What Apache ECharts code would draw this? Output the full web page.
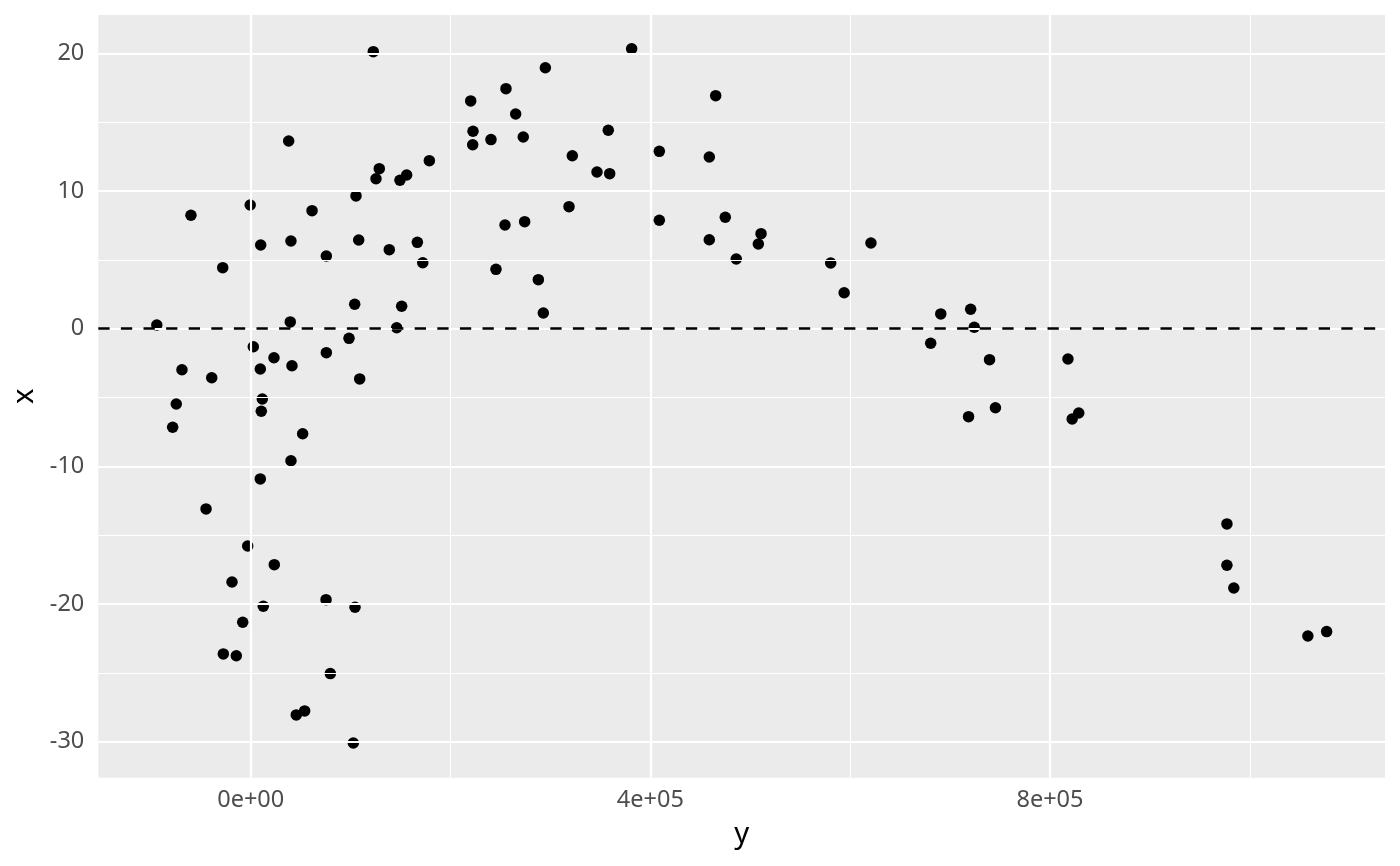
<!DOCTYPE html>
<html>
<head>
<meta charset="utf-8">
<script src="https://cdn.jsdelivr.net/npm/echarts@6/dist/echarts.min.js"></script>
<style>
html,body{margin:0;padding:0;background:#fff;}
#chart{width:1400px;height:866px;}
</style>
</head>
<body>
<div id="chart"></div>
<script>
// horizontal variable "y"
const yVals = [-94000, -59800, -28000, -68800, -74500, -78100, -39000, -44700, -18700, -27400,
  -14400, -8000, -3000, -500, 2600, 9600, 11600, 10600, 9600, 10000,
  12600, 23300, 23600, 38000, 40300, 39600, 41300, 40300, 45600, 54000,
  52000, 61400, 75700, 75700, 75400, 79700, 98400, 102700, 104400, 104100,
  105400, 108100, 109100, 122700, 125400, 128700, 138700, 146100, 149400, 156100,
  151100, 166800, 172200, 178800, 220200, 222500, 222200, 240500, 255500, 265200,
  272800, 294900, 254500, 274200, 245500, 287900, 292900, 318600, 321900, 346600,
  359300, 357900, 381300, 409000, 409000, 459000, 465400, 459000, 475000, 486000,
  508100, 510800, 580500, 594000, 620800, 680600, 690700, 720600, 724200, 718500,
  739500, 745400, 818000, 822200, 828800, 977100, 977100, 984000, 1058100, 1076900];
// vertical variable "x"
const xVals = [0.27, 8.24, 4.43, -2.98, -5.47, -7.16, -3.56, -13.09, -18.40, -23.62,
  -23.75, -21.32, -15.78, 8.98, -1.31, -2.93, -5.11, -6.00, -10.91, 6.08,
  -20.16, -2.11, -17.14, 13.63, 6.37, 0.49, -2.69, -9.59, -28.05, -27.76,
  -7.63, 8.57, 5.28, -1.74, -19.68, -25.05, -0.70, -30.09, -20.23, 1.77,
  9.64, 6.44, -3.65, 20.12, 10.89, 11.62, 5.74, 0.07, 10.78, 11.16,
  1.63, 6.27, 4.79, 12.20, 16.54, 14.34, 13.36, 13.73, 17.43, 15.59,
  13.92, 18.95, 7.53, 7.77, 4.31, 3.56, 1.14, 8.86, 12.56, 11.38,
  11.26, 14.41, 20.33, 12.88, 7.87, 12.47, 16.92, 6.46, 8.09, 5.06,
  6.15, 6.90, 4.77, 2.61, 6.22, -1.06, 1.07, 1.41, 0.10, -6.39,
  -2.25, -5.74, -2.20, -6.56, -6.12, -14.18, -17.18, -18.83, -22.32, -22.00];

const xTickValues = [0, 400000, 800000];
const xTickLabels = ['0e+00', '4e+05', '8e+05'];
const xMinorValues = [200000, 600000, 1000000];
const yTickValues = [-30, -20, -10, 0, 10, 20];
const yTickLabels = ['-30', '-20', '-10', '0', '10', '20'];
const yMinorValues = [-25, -15, -5, 5, 15];
const refLineValue = [0];

const X_MIN = -152540, X_MAX = 1135320;
const Y_MIN = -32.61, Y_MAX = 22.78;

const FONT = 'Noto Sans';
const points = yVals.map((v, i) => [v, xVals[i]]);

const gridLines = [];
xMinorValues.forEach(v => gridLines.push({xAxis: v, lineStyle: {width: 1.1}}));
yMinorValues.forEach(v => gridLines.push({yAxis: v, lineStyle: {width: 1.1}}));
xTickValues.forEach(v => gridLines.push({xAxis: v, lineStyle: {width: 2.2}}));
yTickValues.forEach(v => gridLines.push({yAxis: v, lineStyle: {width: 2.2}}));

const chart = echarts.init(document.getElementById('chart'), null, {renderer: 'canvas'});
chart.setOption({
  animation: false,
  backgroundColor: '#ffffff',
  textStyle: {fontFamily: FONT},
  grid: {
    left: 98.3, right: 15, top: 15, bottom: 88.3,
    show: true, backgroundColor: '#EBEBEB', borderWidth: 0, borderColor: 'transparent'
  },
  xAxis: {
    type: 'value', min: X_MIN, max: X_MAX,
    name: 'y', nameLocation: 'middle', nameGap: 42,
    nameTextStyle: {fontSize: 29.3, color: '#000000', fontFamily: FONT},
    axisLine: {show: false},
    axisTick: {show: true, customValues: xTickValues, length: 7.3, lineStyle: {color: '#333333', width: 2}},
    axisLabel: {
      customValues: xTickValues, margin: 11, fontSize: 23.5, color: '#4D4D4D', fontFamily: FONT,
      formatter: v => { const i = xTickValues.indexOf(v); return i >= 0 ? xTickLabels[i] : ''; }
    },
    splitLine: {show: false}
  },
  yAxis: {
    type: 'value', min: Y_MIN, max: Y_MAX,
    name: 'x', nameLocation: 'middle', nameGap: 56, nameRotate: 90,
    nameTextStyle: {fontSize: 29.3, color: '#000000', fontFamily: FONT},
    axisLine: {show: false},
    axisTick: {show: true, customValues: yTickValues, length: 7.3, lineStyle: {color: '#333333', width: 2}},
    axisLabel: {
      customValues: yTickValues, margin: 14, fontSize: 23.5, color: '#4D4D4D', fontFamily: FONT,
      formatter: v => { const i = yTickValues.indexOf(v); return i >= 0 ? yTickLabels[i] : ''; }
    },
    splitLine: {show: false}
  },
  series: [
    {
      type: 'scatter', data: [], z: 1, silent: true,
      markLine: {
        silent: true, symbol: ['none', 'none'], animation: false,
        label: {show: false},
        lineStyle: {color: '#FFFFFF', type: 'solid'},
        data: gridLines
      }
    },
    {
      type: 'scatter', data: [], z: 2, silent: true,
      markLine: {
        silent: true, symbol: ['none', 'none'], animation: false,
        label: {show: false},
        lineStyle: {color: '#000000', type: [11.3, 11.3], width: 2.6},
        data: refLineValue.map(v => ({yAxis: v}))
      }
    },
    {
      type: 'scatter', data: points, z: 3,
      symbol: 'circle', symbolSize: 11.5,
      itemStyle: {color: '#000000', opacity: 1}
    }
  ]
});
</script>
</body>
</html>
